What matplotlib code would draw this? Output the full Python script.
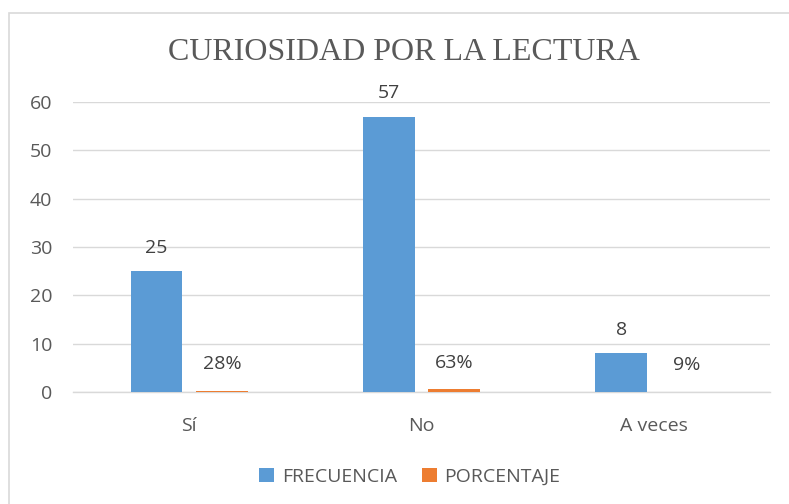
import matplotlib.pyplot as plt
import numpy as np
from matplotlib.patches import Rectangle

categorias = ["Sí", "No", "A veces"]
frecuencia = [25, 57, 8]
porcentaje = [0.28, 0.63, 0.09]
etiquetas_pct = ["28%", "63%", "9%"]

azul = "#5B9BD5"
naranja = "#ED7D31"
gris_txt = "#595959"

plt.rcParams['font.family'] = ['Open Sans', 'DejaVu Sans']

fig = plt.figure(figsize=(7.89, 5.04), dpi=100)
ax = fig.add_axes([73 / 789, 1 - 392 / 504, (770 - 73) / 789, (392 - 102) / 504])

# marco del gráfico
fig.patches.append(Rectangle((9 / 789, -0.05), 1.0, 1 - 13 / 504 + 0.05,
                             transform=fig.transFigure, fill=False,
                             edgecolor="#D9D9D9", linewidth=1.2))

x = np.arange(len(categorias))
ancho = 0.222
desp = 0.141

b1 = ax.bar(x - desp, frecuencia, ancho, color=azul, label="FRECUENCIA", zorder=3)
b2 = ax.bar(x + desp, porcentaje, ancho, color=naranja, label="PORCENTAJE", zorder=3)

for r, v in zip(b1, frecuencia):
    ax.annotate(str(v), (r.get_x() + r.get_width() / 2, r.get_height()),
                xytext=(0, 17), textcoords="offset points", ha="center",
                va="center", fontsize=14, color="#404040")
for r, t in zip(b2, etiquetas_pct):
    ax.annotate(t, (r.get_x() + r.get_width() / 2, r.get_height()),
                xytext=(0, 19), textcoords="offset points", ha="center",
                va="center", fontsize=14, color="#404040")

ax.set_xlim(-0.5, 2.5)
ax.set_ylim(0, 60)
ax.set_yticks(range(0, 61, 10))
ax.set_xticks(x)
ax.set_xticklabels(categorias)
ax.tick_params(axis="both", length=0, labelsize=14, colors=gris_txt)
ax.tick_params(axis="x", pad=18)
ax.tick_params(axis="y", pad=15)
ax.yaxis.grid(True, color="#D9D9D9", linewidth=1, zorder=0)
for s in ["top", "right", "left"]:
    ax.spines[s].set_visible(False)
ax.spines["bottom"].set_color("#D9D9D9")
ax.spines["bottom"].set_linewidth(1)

fig.text(404 / 789, 1 - 53 / 504, "CURIOSIDAD POR LA LECTURA",
         family="Liberation Serif", fontsize=23, color=gris_txt,
         ha="center", va="center")

fig.legend(handles=[b1, b2], loc="center", bbox_to_anchor=(410 / 789, 1 - 477 / 504),
           ncol=2, frameon=False, fontsize=14, labelcolor=gris_txt,
           handlelength=0.75, handleheight=0.75, handletextpad=0.4, columnspacing=1.3)

fig.savefig("out.png", dpi=100)
